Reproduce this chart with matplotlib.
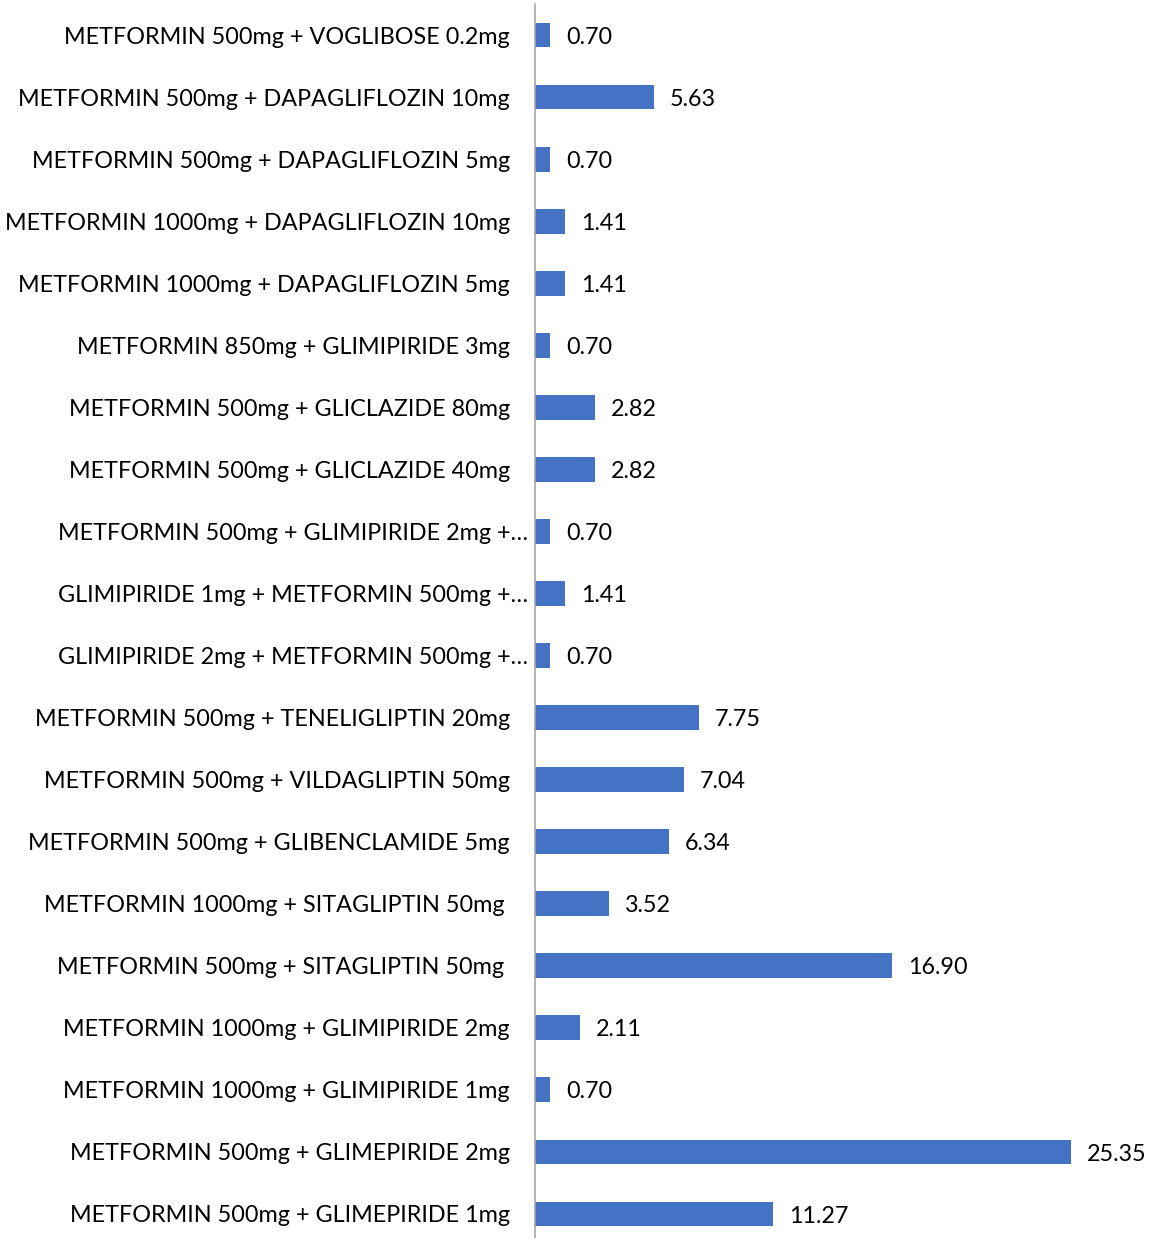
import matplotlib.pyplot as plt
import numpy as np

plt.rcParams['font.family'] = ['Lato', 'DejaVu Sans']

# combinaciones, de arriba hacia abajo
combos = [
    "METFORMIN 500mg + VOGLIBOSE 0.2mg",
    "METFORMIN 500mg + DAPAGLIFLOZIN 10mg",
    "METFORMIN 500mg + DAPAGLIFLOZIN 5mg",
    "METFORMIN 1000mg + DAPAGLIFLOZIN 10mg",
    "METFORMIN 1000mg + DAPAGLIFLOZIN 5mg",
    "METFORMIN 850mg + GLIMIPIRIDE 3mg",
    "METFORMIN 500mg + GLICLAZIDE 80mg",
    "METFORMIN 500mg + GLICLAZIDE 40mg",
    "METFORMIN 500mg + GLIMIPIRIDE 2mg +…",
    "GLIMIPIRIDE 1mg + METFORMIN 500mg +…",
    "GLIMIPIRIDE 2mg + METFORMIN 500mg +…",
    "METFORMIN 500mg + TENELIGLIPTIN 20mg",
    "METFORMIN 500mg + VILDAGLIPTIN 50mg",
    "METFORMIN 500mg + GLIBENCLAMIDE 5mg",
    "METFORMIN 1000mg + SITAGLIPTIN 50mg",
    "METFORMIN 500mg + SITAGLIPTIN 50mg",
    "METFORMIN 1000mg + GLIMIPIRIDE 2mg",
    "METFORMIN 1000mg + GLIMIPIRIDE 1mg",
    "METFORMIN 500mg + GLIMEPIRIDE 2mg",
    "METFORMIN 500mg + GLIMEPIRIDE 1mg",
]
porcentaje = [0.70, 5.63, 0.70, 1.41, 1.41, 0.70, 2.82, 2.82, 0.70, 1.41,
              0.70, 7.75, 7.04, 6.34, 3.52, 16.90, 2.11, 0.70, 25.35, 11.27]

fig = plt.figure(figsize=(11.52, 12.38), dpi=100)
ax = fig.add_axes([535 / 1152, -7 / 1238, 617 / 1152, 1241 / 1238])

y = np.arange(len(combos))
barras = ax.barh(y, porcentaje, height=0.4, color='#4472C4')
ax.set_ylim(len(combos) - 0.5, -0.5)
ax.set_xlim(0, 29.2)

ax.set_yticks(y)
ax.set_yticklabels(combos, fontsize=16.8)
ax.tick_params(axis='y', length=0, pad=18)
for i, t in enumerate(ax.yaxis.get_major_ticks()):
    if combos[i].endswith('…'):
        t.set_pad(5)
    elif 'SITAGLIPTIN' in combos[i]:
        t.set_pad(22)
ax.set_xticks([])

for s in ['top', 'right', 'bottom']:
    ax.spines[s].set_visible(False)
ax.spines['left'].set_color('#A6A6A6')
ax.spines['left'].set_linewidth(1.2)

# etiquetas de valor
for b, v in zip(barras, porcentaje):
    ax.annotate(f"{v:.2f}", (b.get_width(), b.get_y() + b.get_height() / 2),
                xytext=(11.5, -1.5), textcoords='offset points',
                va='center', ha='left', fontsize=16.8)

fig.savefig('out.png', dpi=100)
